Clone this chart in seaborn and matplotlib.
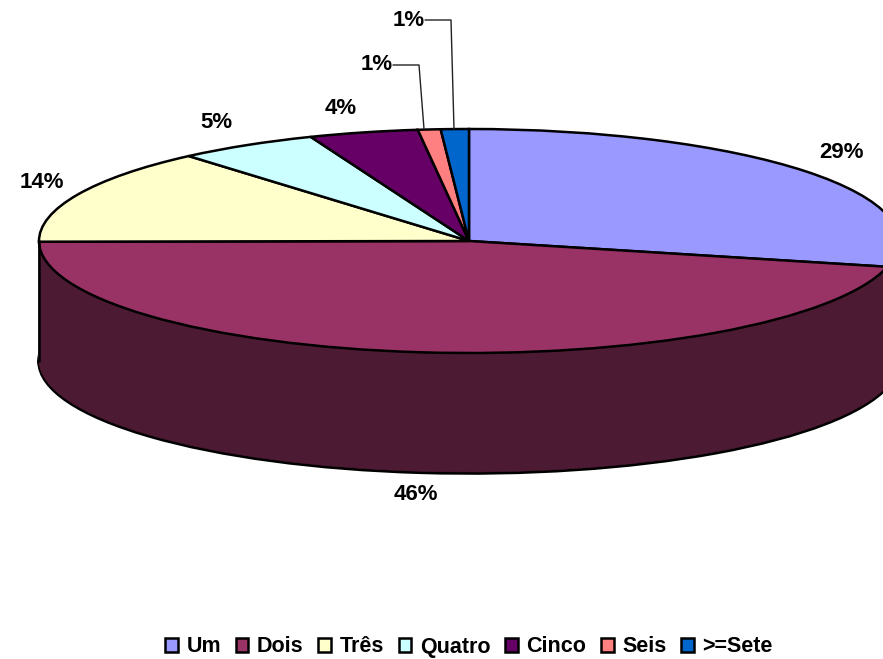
import numpy as np
import matplotlib
matplotlib.use("Agg")
import matplotlib.pyplot as plt
import seaborn as sns

categories = ["Um", "Dois", "Três", "Quatro", "Cinco", "Seis", ">=Sete"]
values = [28.7, 46.2, 13.8, 5.3, 4.1, 0.85, 1.05]
hex_colors = ["#9999FF", "#993366", "#FFFFCC", "#CCFFFF", "#660066", "#FF8080", "#0066CC"]

sns.set_style("white")
plt.rcParams["font.family"] = ["Liberation Sans", "DejaVu Sans"]
palette = sns.color_palette(hex_colors)
wall_colors = [tuple(c * 0.5 for c in col) for col in palette]

W, H = 883, 659
CX, CY, RX, RY, DEPTH = 469, 241, 430, 112, 120
LW = 1.8

fig = plt.figure(figsize=(W / 100, H / 100), dpi=100)
ax = fig.add_axes([0, 0, 1, 1])

# side wall: stack of dark pies going up from the bottom
for d in range(DEPTH, 0, -1):
    wedges, _ = ax.pie(values, colors=wall_colors, startangle=90, counterclock=False,
                       center=(0, -d / RY), normalize=True)
    for w, c in zip(wedges, wall_colors):
        w.set_edgecolor("black" if d == DEPTH else c)
        w.set_linewidth(2.6 if d == DEPTH else 0.4)

# top face
wedges, _ = ax.pie(values, colors=palette, startangle=90, counterclock=False,
                   labels=None, center=(0, 0), normalize=True,
                   wedgeprops=dict(edgecolor="black", linewidth=LW))

ax.set_aspect("auto")
ax.set_xlim((0 - CX) / RX, (W - CX) / RX)
ax.set_ylim((CY - H) / RY, CY / RY)
ax.axis("off")

# left edge of the wall
ax.plot([-1, -1], [0, -DEPTH / RY], color="black", lw=LW)

# overlay in pixels for labels and leader lines
ov = fig.add_axes([0, 0, 1, 1], facecolor="none")
ov.set_xlim(0, W)
ov.set_ylim(H, 0)
ov.axis("off")

label_pos = [(841, 152), (416, 494), (42, 183), (216, 122), (341, 109), (377, 64), (409, 20)]
for v, (x, y) in zip(values, label_pos):
    ov.text(x, y, f"{v:.0f}%", ha="center", va="center", fontsize=16, fontweight="bold", color="black")

ov.plot([393, 419, 424], [65, 65, 129], color="#222222", lw=1.0)
ov.plot([425, 451, 454], [20, 20, 129], color="#222222", lw=1.0)

leg = ov.legend(wedges, categories, loc="center", bbox_to_anchor=(469 / W, 1 - 647 / H),
                ncol=7, frameon=False, fontsize=15.5, columnspacing=0.69, handlelength=0.58,
                handleheight=0.58, handletextpad=0.4, borderpad=0, borderaxespad=0,
                labelcolor="black")
for t in leg.get_texts():
    t.set_fontweight("bold")

fig.savefig("out.png", dpi=100)
